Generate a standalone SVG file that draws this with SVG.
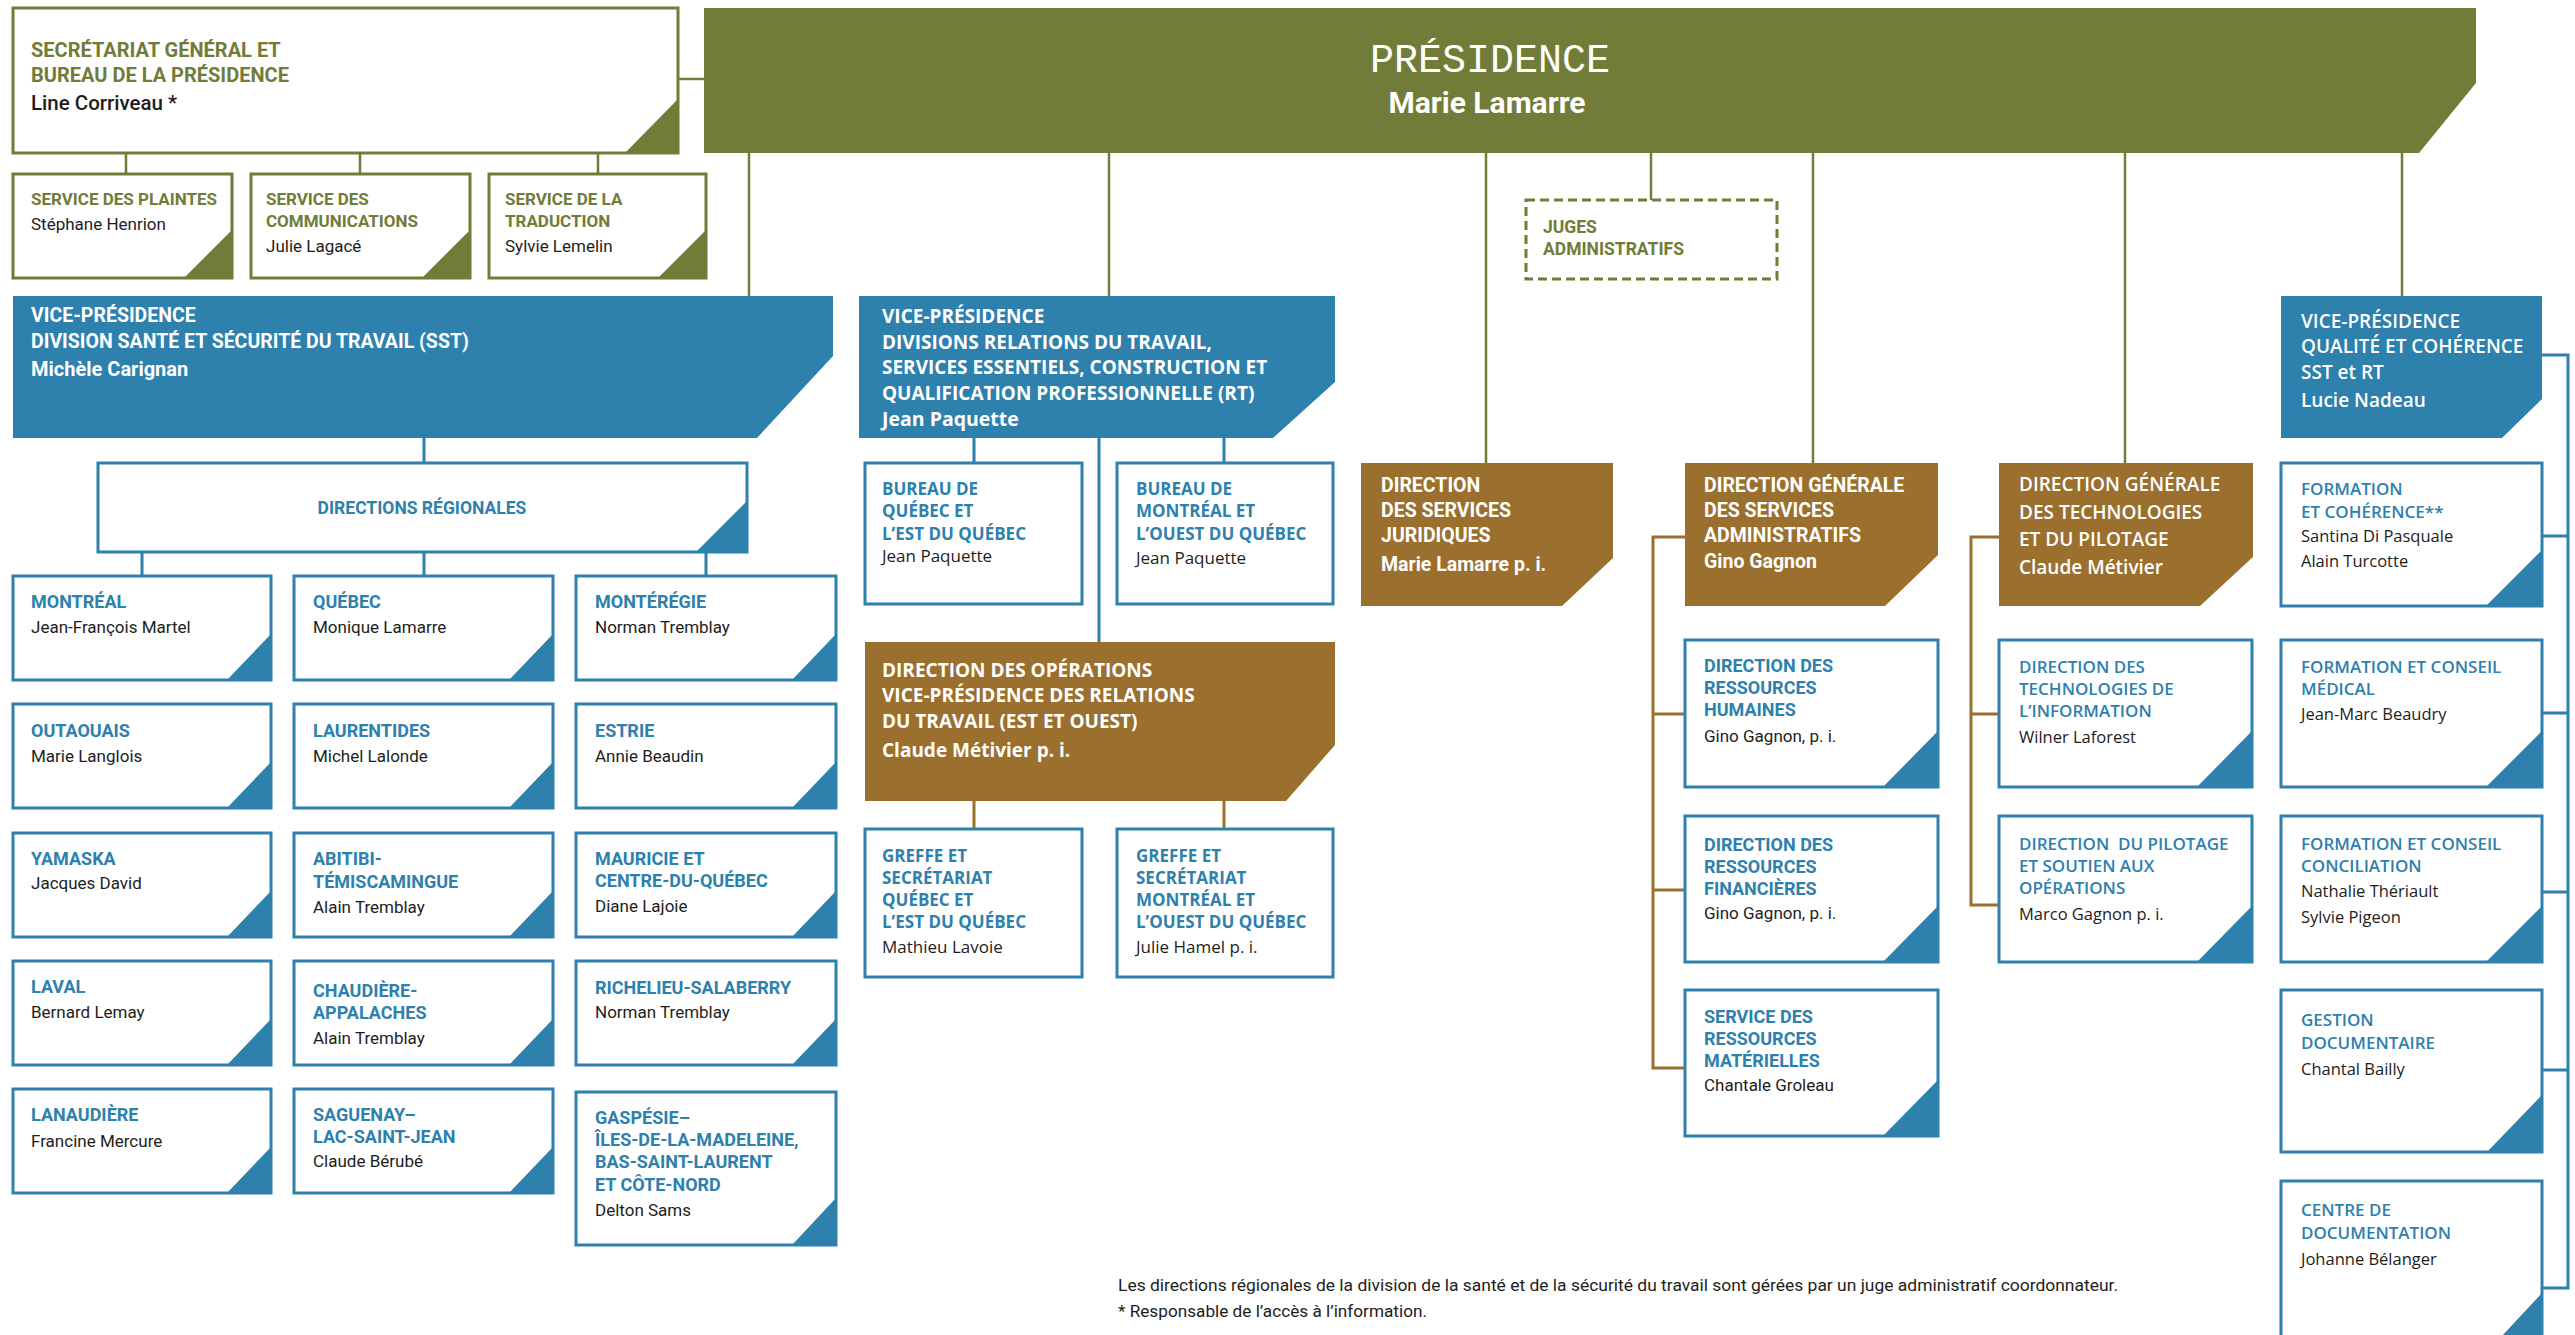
<svg xmlns="http://www.w3.org/2000/svg" width="2575" height="1335" viewBox="0 0 2575 1335">
<style>
.bg{fill:#ffffff}
.oo{fill:#ffffff;stroke:#707c37;stroke-width:3}
.bo{fill:#ffffff;stroke:#2e80ad;stroke-width:3}
.dash{fill:#ffffff;stroke:#707c37;stroke-width:3;stroke-dasharray:9 5}
.fo{fill:#707c37}
.fb{fill:#2e80ad}
.fr{fill:#9b702e}
.co{fill:none;stroke:#707c37;stroke-width:2.5}
.cb{fill:none;stroke:#2e80ad;stroke-width:3}
.cr{fill:none;stroke:#9b702e;stroke-width:3}
.r{font-family:Roboto,"Liberation Sans",sans-serif}
.o{font-family:"Open Sans","DejaVu Sans",sans-serif}
.tO{fill:#707c37;font-weight:700}
.tB{fill:#2e80ad;font-weight:700}
.tB6{fill:#2e80ad;font-weight:600}
.tW{fill:#ffffff;font-weight:700}
.tW6{fill:#ffffff;font-weight:600}
.nm{fill:#1d1d1b;font-weight:400}
</style>
<rect class="bg" x="0" y="0" width="2575" height="1335"/>

<g id="connectors">
  <path class="co" d="M678 79H704"/>
  <path class="co" d="M126 153V174M360 153V174M598 153V174"/>
  <path class="co" d="M749 153V296M1109 153V296M1486 153V463M1651 153V200M1813 153V463M2125 153V463M2402 153V296"/>
  <path class="cb" d="M424 438V463M142 552V576M424 552V576M706 552V576"/>
  <path class="cb" d="M974 438V463M1224 438V463M1099 438V642"/>
  <path class="cr" d="M974 801V829M1224 801V829"/>
  <path class="cr" d="M1685 537H1653V1068H1685M1653 714H1685M1653 890H1685"/>
  <path class="cr" d="M1999 537H1971V905H1999M1971 714H1999"/>
  <path class="cb" d="M2542 355H2568V1288H2542M2568 536H2542M2568 713H2542M2568 892H2542M2568 1070H2542"/>
</g>

<g id="secretariat" class="r">
  <rect class="oo" x="13" y="8" width="665" height="145"/>
  <polygon class="fo" points="678,99 678,153 625,153"/>
  <text class="tO" font-size="20" x="31" y="57">SECRÉTARIAT GÉNÉRAL ET</text>
  <text class="tO" font-size="20" x="31" y="82">BUREAU DE LA PRÉSIDENCE</text>
  <text class="nm" font-size="20.5" x="31" y="110" style="font-weight:500">Line Corriveau *</text>
</g>

<g id="presidence">
  <polygon class="fo" points="704,8 2476,8 2476,83 2419,153 704,153"/>
  <text x="1490" y="72" text-anchor="middle" font-family="'Liberation Mono','DejaVu Sans Mono',monospace" font-size="40" fill="#ffffff">PRÉSIDENCE</text>
  <text class="r tW" x="1487" y="113" text-anchor="middle" font-size="30">Marie Lamarre</text>
</g>

<g id="service-plaintes" class="r">
  <rect class="oo" x="13" y="174" width="219" height="104"/>
  <polygon class="fo" points="232,230 232,278 184,278"/>
  <text class="tO" font-size="17" x="31" y="205">SERVICE DES PLAINTES</text>
  <text class="nm" font-size="17" x="31" y="230">Stéphane Henrion</text>
</g>
<g id="service-communications" class="r">
  <rect class="oo" x="251" y="174" width="219" height="104"/>
  <polygon class="fo" points="470,230 470,278 422,278"/>
  <text class="tO" font-size="17" x="266" y="205">SERVICE DES</text>
  <text class="tO" font-size="17" x="266" y="227">COMMUNICATIONS</text>
  <text class="nm" font-size="17" x="266" y="252">Julie Lagacé</text>
</g>
<g id="service-traduction" class="r">
  <rect class="oo" x="489" y="174" width="217" height="104"/>
  <polygon class="fo" points="706,230 706,278 658,278"/>
  <text class="tO" font-size="17" x="505" y="205">SERVICE DE LA</text>
  <text class="tO" font-size="17" x="505" y="227">TRADUCTION</text>
  <text class="nm" font-size="17" x="505" y="252">Sylvie Lemelin</text>
</g>

<g id="juges" class="r">
  <rect class="dash" x="1526" y="200" width="251" height="79"/>
  <text class="tO" font-size="17.5" x="1543" y="233">JUGES</text>
  <text class="tO" font-size="17.5" x="1543" y="255">ADMINISTRATIFS</text>
</g>

<g id="vp-sst" class="r">
  <polygon class="fb" points="13,296 833,296 833,356 757,438 13,438"/>
  <text class="tW" font-size="19.5" x="31" y="322">VICE-PRÉSIDENCE</text>
  <text class="tW" font-size="19.5" x="31" y="348">DIVISION SANTÉ ET SÉCURITÉ DU TRAVAIL (SST)</text>
  <text class="tW" font-size="20" x="31" y="376">Michèle Carignan</text>
</g>

<g id="directions-regionales" class="r">
  <rect class="bo" x="98" y="463" width="649" height="89"/>
  <polygon class="fb" points="747,501 747,552 696,552"/>
  <text class="tB" font-size="17.5" x="422" y="514" text-anchor="middle">DIRECTIONS RÉGIONALES</text>
</g>

<g id="montreal" class="r">
  <rect class="bo" x="13" y="576" width="258" height="104"/>
  <polygon class="fb" points="271,634 271,680 227,680"/>
  <text class="tB" font-size="18" x="31" y="608">MONTRÉAL</text>
  <text class="nm" font-size="17" x="31" y="633">Jean-François Martel</text>
</g>
<g id="quebec" class="r">
  <rect class="bo" x="294" y="576" width="259" height="104"/>
  <polygon class="fb" points="553,634 553,680 509,680"/>
  <text class="tB" font-size="18" x="313" y="608">QUÉBEC</text>
  <text class="nm" font-size="17" x="313" y="633">Monique Lamarre</text>
</g>
<g id="monteregie" class="r">
  <rect class="bo" x="576" y="576" width="260" height="104"/>
  <polygon class="fb" points="836,634 836,680 792,680"/>
  <text class="tB" font-size="18" x="595" y="608">MONTÉRÉGIE</text>
  <text class="nm" font-size="17" x="595" y="633">Norman Tremblay</text>
</g>

<g id="outaouais" class="r">
  <rect class="bo" x="13" y="704" width="258" height="104"/>
  <polygon class="fb" points="271,762 271,808 227,808"/>
  <text class="tB" font-size="18" x="31" y="737">OUTAOUAIS</text>
  <text class="nm" font-size="17" x="31" y="762">Marie Langlois</text>
</g>
<g id="laurentides" class="r">
  <rect class="bo" x="294" y="704" width="259" height="104"/>
  <polygon class="fb" points="553,762 553,808 509,808"/>
  <text class="tB" font-size="18" x="313" y="737">LAURENTIDES</text>
  <text class="nm" font-size="17" x="313" y="762">Michel Lalonde</text>
</g>
<g id="estrie" class="r">
  <rect class="bo" x="576" y="704" width="260" height="104"/>
  <polygon class="fb" points="836,762 836,808 792,808"/>
  <text class="tB" font-size="18" x="595" y="737">ESTRIE</text>
  <text class="nm" font-size="17" x="595" y="762">Annie Beaudin</text>
</g>

<g id="yamaska" class="r">
  <rect class="bo" x="13" y="833" width="258" height="104"/>
  <polygon class="fb" points="271,891 271,937 227,937"/>
  <text class="tB" font-size="18" x="31" y="865">YAMASKA</text>
  <text class="nm" font-size="17" x="31" y="889">Jacques David</text>
</g>
<g id="abitibi" class="r">
  <rect class="bo" x="294" y="833" width="259" height="104"/>
  <polygon class="fb" points="553,891 553,937 509,937"/>
  <text class="tB" font-size="18" x="313" y="865">ABITIBI-</text>
  <text class="tB" font-size="18" x="313" y="888">TÉMISCAMINGUE</text>
  <text class="nm" font-size="17" x="313" y="913">Alain Tremblay</text>
</g>
<g id="mauricie" class="r">
  <rect class="bo" x="576" y="833" width="260" height="104"/>
  <polygon class="fb" points="836,891 836,937 792,937"/>
  <text class="tB" font-size="18" x="595" y="865">MAURICIE ET</text>
  <text class="tB" font-size="18" x="595" y="887">CENTRE-DU-QUÉBEC</text>
  <text class="nm" font-size="17" x="595" y="912">Diane Lajoie</text>
</g>

<g id="laval" class="r">
  <rect class="bo" x="13" y="961" width="258" height="104"/>
  <polygon class="fb" points="271,1019 271,1065 227,1065"/>
  <text class="tB" font-size="18" x="31" y="993">LAVAL</text>
  <text class="nm" font-size="17" x="31" y="1018">Bernard Lemay</text>
</g>
<g id="chaudiere" class="r">
  <rect class="bo" x="294" y="961" width="259" height="104"/>
  <polygon class="fb" points="553,1019 553,1065 509,1065"/>
  <text class="tB" font-size="18" x="313" y="997">CHAUDIÈRE-</text>
  <text class="tB" font-size="18" x="313" y="1019">APPALACHES</text>
  <text class="nm" font-size="17" x="313" y="1044">Alain Tremblay</text>
</g>
<g id="richelieu" class="r">
  <rect class="bo" x="576" y="961" width="260" height="104"/>
  <polygon class="fb" points="836,1019 836,1065 792,1065"/>
  <text class="tB" font-size="18" x="595" y="994">RICHELIEU-SALABERRY</text>
  <text class="nm" font-size="17" x="595" y="1018">Norman Tremblay</text>
</g>

<g id="lanaudiere" class="r">
  <rect class="bo" x="13" y="1089" width="258" height="104"/>
  <polygon class="fb" points="271,1147 271,1193 227,1193"/>
  <text class="tB" font-size="18" x="31" y="1121">LANAUDIÈRE</text>
  <text class="nm" font-size="17" x="31" y="1147">Francine Mercure</text>
</g>
<g id="saguenay" class="r">
  <rect class="bo" x="294" y="1089" width="259" height="104"/>
  <polygon class="fb" points="553,1147 553,1193 509,1193"/>
  <text class="tB" font-size="18" x="313" y="1121">SAGUENAY–</text>
  <text class="tB" font-size="18" x="313" y="1143">LAC-SAINT-JEAN</text>
  <text class="nm" font-size="17" x="313" y="1167">Claude Bérubé</text>
</g>
<g id="gaspesie" class="r">
  <rect class="bo" x="576" y="1092" width="260" height="153"/>
  <polygon class="fb" points="836,1198 836,1245 792,1245"/>
  <text class="tB" font-size="18" x="595" y="1124">GASPÉSIE–</text>
  <text class="tB" font-size="18" x="595" y="1146">ÎLES-DE-LA-MADELEINE,</text>
  <text class="tB" font-size="18" x="595" y="1168">BAS-SAINT-LAURENT</text>
  <text class="tB" font-size="18" x="595" y="1191">ET CÔTE-NORD</text>
  <text class="nm" font-size="17" x="595" y="1216">Delton Sams</text>
</g>

<g id="vp-rt" class="o">
  <polygon class="fb" points="859,296 1335,296 1335,382 1273,438 859,438"/>
  <text class="tW" font-size="19" x="882" y="323">VICE-PRÉSIDENCE</text>
  <text class="tW" font-size="19" x="882" y="349">DIVISIONS RELATIONS DU TRAVAIL,</text>
  <text class="tW" font-size="19" x="882" y="374">SERVICES ESSENTIELS, CONSTRUCTION ET</text>
  <text class="tW" font-size="19" x="882" y="400">QUALIFICATION PROFESSIONNELLE (RT)</text>
  <text class="tW" font-size="19.5" x="882" y="426">Jean Paquette</text>
</g>

<g id="bureau-quebec" class="o">
  <rect class="bo" x="865" y="463" width="217" height="141"/>
  <text class="tB" font-size="17" x="882" y="495">BUREAU DE</text>
  <text class="tB" font-size="17" x="882" y="517">QUÉBEC ET</text>
  <text class="tB" font-size="17" x="882" y="540">L’EST DU QUÉBEC</text>
  <text class="nm" font-size="17" x="882" y="562">Jean Paquette</text>
</g>
<g id="bureau-montreal" class="o">
  <rect class="bo" x="1117" y="463" width="216" height="141"/>
  <text class="tB" font-size="17" x="1136" y="495">BUREAU DE</text>
  <text class="tB" font-size="17" x="1136" y="517">MONTRÉAL ET</text>
  <text class="tB" font-size="17" x="1136" y="540">L’OUEST DU QUÉBEC</text>
  <text class="nm" font-size="17" x="1136" y="564">Jean Paquette</text>
</g>

<g id="direction-operations" class="o">
  <polygon class="fr" points="865,642 1335,642 1335,745 1286,801 865,801"/>
  <text class="tW" font-size="19" x="882" y="677">DIRECTION DES OPÉRATIONS</text>
  <text class="tW" font-size="19" x="882" y="702">VICE-PRÉSIDENCE DES RELATIONS</text>
  <text class="tW" font-size="19" x="882" y="728">DU TRAVAIL (EST ET OUEST)</text>
  <text class="tW" font-size="19" x="882" y="757">Claude Métivier p. i.</text>
</g>

<g id="greffe-quebec" class="o">
  <rect class="bo" x="865" y="829" width="217" height="148"/>
  <text class="tB" font-size="17" x="882" y="862">GREFFE ET</text>
  <text class="tB" font-size="17" x="882" y="884">SECRÉTARIAT</text>
  <text class="tB" font-size="17" x="882" y="906">QUÉBEC ET</text>
  <text class="tB" font-size="17" x="882" y="928">L’EST DU QUÉBEC</text>
  <text class="nm" font-size="17" x="882" y="953">Mathieu Lavoie</text>
</g>
<g id="greffe-montreal" class="o">
  <rect class="bo" x="1117" y="829" width="216" height="148"/>
  <text class="tB" font-size="17" x="1136" y="862">GREFFE ET</text>
  <text class="tB" font-size="17" x="1136" y="884">SECRÉTARIAT</text>
  <text class="tB" font-size="17" x="1136" y="906">MONTRÉAL ET</text>
  <text class="tB" font-size="17" x="1136" y="928">L’OUEST DU QUÉBEC</text>
  <text class="nm" font-size="17" x="1136" y="953">Julie Hamel p. i.</text>
</g>

<g id="services-juridiques" class="r">
  <polygon class="fr" points="1361,463 1613,463 1613,558 1562,606 1361,606"/>
  <text class="tW" font-size="19.5" x="1381" y="492">DIRECTION</text>
  <text class="tW" font-size="19.5" x="1381" y="517">DES SERVICES</text>
  <text class="tW" font-size="19.5" x="1381" y="542">JURIDIQUES</text>
  <text class="tW" font-size="19.5" x="1381" y="571">Marie Lamarre p. i.</text>
</g>

<g id="dg-services-administratifs" class="r">
  <polygon class="fr" points="1685,463 1938,463 1938,555 1885,606 1685,606"/>
  <text class="tW" font-size="19.5" x="1704" y="492">DIRECTION GÉNÉRALE</text>
  <text class="tW" font-size="19.5" x="1704" y="517">DES SERVICES</text>
  <text class="tW" font-size="19.5" x="1704" y="542">ADMINISTRATIFS</text>
  <text class="tW" font-size="19.5" x="1704" y="568">Gino Gagnon</text>
</g>

<g id="ressources-humaines" class="r">
  <rect class="bo" x="1685" y="640" width="253" height="147"/>
  <polygon class="fb" points="1938,731 1938,787 1883,787"/>
  <text class="tB" font-size="18" x="1704" y="672">DIRECTION DES</text>
  <text class="tB" font-size="18" x="1704" y="694">RESSOURCES</text>
  <text class="tB" font-size="18" x="1704" y="716">HUMAINES</text>
  <text class="nm" font-size="17" x="1704" y="742">Gino Gagnon, p. i.</text>
</g>
<g id="ressources-financieres" class="r">
  <rect class="bo" x="1685" y="816" width="253" height="146"/>
  <polygon class="fb" points="1938,906 1938,962 1883,962"/>
  <text class="tB" font-size="18" x="1704" y="851">DIRECTION DES</text>
  <text class="tB" font-size="18" x="1704" y="873">RESSOURCES</text>
  <text class="tB" font-size="18" x="1704" y="895">FINANCIÈRES</text>
  <text class="nm" font-size="17" x="1704" y="919">Gino Gagnon, p. i.</text>
</g>
<g id="ressources-materielles" class="r">
  <rect class="bo" x="1685" y="990" width="253" height="146"/>
  <polygon class="fb" points="1938,1080 1938,1136 1883,1136"/>
  <text class="tB" font-size="18" x="1704" y="1023">SERVICE DES</text>
  <text class="tB" font-size="18" x="1704" y="1045">RESSOURCES</text>
  <text class="tB" font-size="18" x="1704" y="1067">MATÉRIELLES</text>
  <text class="nm" font-size="17" x="1704" y="1091">Chantale Groleau</text>
</g>

<g id="dg-technologies" class="o">
  <polygon class="fr" points="1999,463 2253,463 2253,557 2200,606 1999,606"/>
  <text class="tW6" font-size="19" x="2019" y="491">DIRECTION GÉNÉRALE</text>
  <text class="tW6" font-size="19" x="2019" y="519">DES TECHNOLOGIES</text>
  <text class="tW6" font-size="19" x="2019" y="546">ET DU PILOTAGE</text>
  <text class="tW6" font-size="19" x="2019" y="574">Claude Métivier</text>
</g>

<g id="technologies-information" class="o">
  <rect class="bo" x="1999" y="640" width="253" height="147"/>
  <polygon class="fb" points="2252,731 2252,787 2197,787"/>
  <text class="tB6" font-size="17" x="2019" y="673">DIRECTION DES</text>
  <text class="tB6" font-size="17" x="2019" y="695">TECHNOLOGIES DE</text>
  <text class="tB6" font-size="17" x="2019" y="717">L’INFORMATION</text>
  <text class="nm" font-size="16.5" x="2019" y="743">Wilner Laforest</text>
</g>
<g id="pilotage" class="o">
  <rect class="bo" x="1999" y="816" width="253" height="146"/>
  <polygon class="fb" points="2252,906 2252,962 2197,962"/>
  <text class="tB6" font-size="17" x="2019" y="850">DIRECTION&#160; DU PILOTAGE</text>
  <text class="tB6" font-size="17" x="2019" y="872">ET SOUTIEN AUX</text>
  <text class="tB6" font-size="17" x="2019" y="894">OPÉRATIONS</text>
  <text class="nm" font-size="16.5" x="2019" y="920">Marco Gagnon p. i.</text>
</g>

<g id="vp-qualite" class="o">
  <polygon class="fb" points="2281,296 2542,296 2542,399 2502,438 2281,438"/>
  <text class="tW6" font-size="19" x="2301" y="328">VICE-PRÉSIDENCE</text>
  <text class="tW6" font-size="19" x="2301" y="353">QUALITÉ ET COHÉRENCE</text>
  <text class="tW6" font-size="19" x="2301" y="379">SST et RT</text>
  <text class="tW6" font-size="19" x="2301" y="407">Lucie Nadeau</text>
</g>

<g id="formation-coherence" class="o">
  <rect class="bo" x="2281" y="463" width="261" height="143"/>
  <polygon class="fb" points="2542,550 2542,606 2486,606"/>
  <text class="tB6" font-size="17" x="2301" y="495">FORMATION</text>
  <text class="tB6" font-size="17" x="2301" y="518">ET COHÉRENCE**</text>
  <text class="nm" font-size="16.5" x="2301" y="542">Santina Di Pasquale</text>
  <text class="nm" font-size="16.5" x="2301" y="567">Alain Turcotte</text>
</g>
<g id="formation-medical" class="o">
  <rect class="bo" x="2281" y="640" width="261" height="147"/>
  <polygon class="fb" points="2542,731 2542,787 2486,787"/>
  <text class="tB6" font-size="17" x="2301" y="673">FORMATION ET CONSEIL</text>
  <text class="tB6" font-size="17" x="2301" y="695">MÉDICAL</text>
  <text class="nm" font-size="16.5" x="2301" y="720">Jean-Marc Beaudry</text>
</g>
<g id="formation-conciliation" class="o">
  <rect class="bo" x="2281" y="816" width="261" height="146"/>
  <polygon class="fb" points="2542,906 2542,962 2486,962"/>
  <text class="tB6" font-size="17" x="2301" y="850">FORMATION ET CONSEIL</text>
  <text class="tB6" font-size="17" x="2301" y="872">CONCILIATION</text>
  <text class="nm" font-size="16.5" x="2301" y="897">Nathalie Thériault</text>
  <text class="nm" font-size="16.5" x="2301" y="923">Sylvie Pigeon</text>
</g>
<g id="gestion-documentaire" class="o">
  <rect class="bo" x="2281" y="990" width="261" height="162"/>
  <polygon class="fb" points="2542,1095 2542,1152 2487,1152"/>
  <text class="tB6" font-size="17" x="2301" y="1026">GESTION</text>
  <text class="tB6" font-size="17" x="2301" y="1049">DOCUMENTAIRE</text>
  <text class="nm" font-size="16.5" x="2301" y="1075">Chantal Bailly</text>
</g>
<g id="centre-documentation" class="o">
  <rect class="bo" x="2281" y="1181" width="261" height="168"/>
  <polygon class="fb" points="2542,1293 2542,1352 2487,1352"/>
  <text class="tB6" font-size="17" x="2301" y="1216">CENTRE DE</text>
  <text class="tB6" font-size="17" x="2301" y="1239">DOCUMENTATION</text>
  <text class="nm" font-size="16.5" x="2301" y="1265">Johanne Bélanger</text>
</g>

<g id="notes" class="r">
  <text class="nm" font-size="17" x="1118" y="1291" textLength="1000" lengthAdjust="spacingAndGlyphs">Les directions régionales de la division de la santé et de la sécurité du travail sont gérées par un juge administratif coordonnateur.</text>
  <text class="nm" font-size="17" x="1118" y="1317" textLength="309" lengthAdjust="spacingAndGlyphs">* Responsable de l’accès à l’information.</text>
</g>
</svg>
